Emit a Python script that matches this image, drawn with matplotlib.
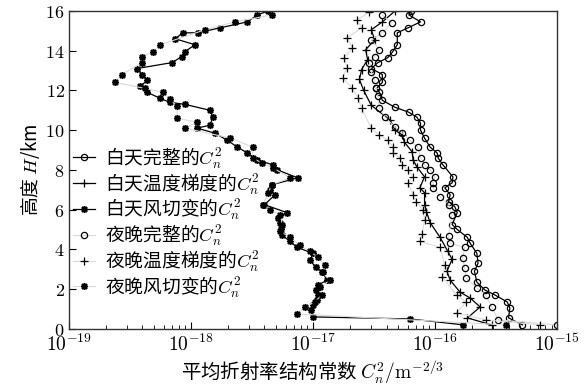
import numpy as np
import matplotlib
matplotlib.use("Agg")
import matplotlib.pyplot as plt

plt.rcParams['font.family'] = ['Noto Sans CJK SC', 'DejaVu Sans']
plt.rcParams['mathtext.fontset'] = 'cm'

# --- data (height in km, Cn2 in m^-2/3) ---
h_day_full = [16.0, 15.8, 15.45, 15.15, 14.9, 14.3, 13.95, 13.65, 13.4, 13.1, 12.8, 12.4,
              12.1, 11.9, 11.5, 11.15, 10.9, 10.65, 10.35, 10.0, 9.6, 9.15, 8.85, 8.6,
              8.25, 7.65, 7.35, 7.1, 6.75, 6.4, 6.15, 5.85, 5.25, 5.0, 4.6, 4.3, 3.8,
              3.3, 2.9, 2.35, 1.95, 1.7, 1.35, 1.05, 0.55, 0.2]
c_day_full = [6.3e-17, 6.1e-17, 7.6e-17, 6.0e-17, 4.9e-17, 4.9e-17, 4.5e-17, 4.1e-17,
              3.4e-17, 3.0e-17, 3.7e-17, 3.7e-17, 3.3e-17, 3.5e-17, 3.7e-17, 4.7e-17,
              6.1e-17, 7.1e-17, 7.6e-17, 7.6e-17, 8.2e-17, 9.1e-17, 1.04e-16, 1.06e-16,
              1.16e-16, 1.40e-16, 1.38e-16, 1.20e-16, 1.33e-16, 1.29e-16, 1.45e-16,
              1.52e-16, 1.38e-16, 1.52e-16, 1.84e-16, 1.94e-16, 2.2e-16, 2.25e-16,
              2.1e-16, 2.2e-16, 2.57e-16, 3.1e-16, 3.9e-16, 4.1e-16, 4.0e-16, 5.2e-16]

h_day_temp = [16.0, 15.45, 15.05, 14.55, 14.05, 13.55, 13.05, 12.55, 12.0, 11.25, 10.5,
              10.0, 9.75, 9.4, 8.9, 8.5, 8.15, 7.65, 7.1, 6.85, 6.25, 5.9, 5.35, 4.6,
              3.9, 3.5, 2.9, 2.45, 1.85, 1.55, 1.1, 0.55, 0.2]
c_day_temp = [4.7e-17, 3.7e-17, 3.0e-17, 3.2e-17, 2.7e-17, 2.8e-17, 2.5e-17, 2.4e-17,
              2.6e-17, 3.0e-17, 4.3e-17, 4.7e-17, 5.4e-17, 5.6e-17, 6.5e-17, 6.6e-17,
              7.1e-17, 8.2e-17, 7.5e-17, 8.2e-17, 8.2e-17, 8.5e-17, 9.1e-17, 1.10e-16,
              1.27e-16, 1.38e-16, 1.25e-16, 1.33e-16, 1.60e-16, 1.94e-16, 2.34e-16,
              1.84e-16, 2.9e-16]

h_day_wind = [16.0, 15.8, 15.45, 15.15, 14.9, 14.9, 14.6, 14.3, 13.95, 13.7, 13.4, 13.1,
              12.8, 12.5, 12.2, 11.9, 11.6, 11.4, 11.3, 11.0, 10.65, 10.25, 10.1, 9.85,
              9.5, 9.15, 8.85, 8.5, 8.25, 8.0, 7.6, 7.25, 7.0, 6.75, 6.25, 5.85, 5.6,
              5.35, 5.0, 4.7, 4.4, 4.1, 3.8, 3.45, 3.1, 2.85, 2.45, 2.2, 1.95, 1.7,
              1.45, 1.2, 0.95, 0.6, 0.5, 0.2]
c_day_wind = [4.3e-18, 3.5e-18, 2.9e-18, 1.73e-18, 1.14e-18, 8.6e-19, 7.4e-19, 1.08e-18,
              8.9e-19, 8.4e-19, 7.0e-19, 3.6e-19, 4.0e-19, 4.4e-19, 3.8e-19, 4.4e-19,
              5.6e-19, 6.7e-19, 8.9e-19, 1.43e-18, 1.51e-18, 1.43e-18, 1.12e-18, 1.57e-18,
              1.97e-18, 2.4e-18, 2.9e-18, 3.5e-18, 4.7e-18, 5.1e-18, 7.5e-18, 4.6e-18,
              4.4e-18, 4.9e-18, 4.0e-18, 6.1e-18, 5.2e-18, 5.4e-18, 5.5e-18, 5.6e-18,
              6.5e-18, 7.4e-18, 1.0e-17, 0.95e-17, 1.05e-17, 1.2e-17, 1.3e-17, 1.1e-17,
              1.05e-17, 1.1e-17, 1.08e-17, 1.0e-17, 0.97e-17, 1.0e-17, 6.2e-17, 1.7e-16]

h_night_full = [15.8, 15.4, 14.9, 14.55, 14.05, 13.7, 13.4, 12.95, 12.5, 12.1, 11.7, 11.1,
                10.65, 10.15, 9.85, 9.5, 9.15, 8.6, 8.25, 8.0, 7.65, 7.35, 7.1, 6.65,
                6.25, 5.75, 4.65, 4.3, 4.1, 3.55, 3.05, 2.55, 2.05, 1.7, 1.1, 0.45, 0.2]
c_night_full = [3.7e-17, 4.4e-17, 3.7e-17, 3.0e-17, 3.5e-17, 3.2e-17, 2.9e-17, 3.0e-17,
                3.2e-17, 3.3e-17, 3.4e-17, 3.5e-17, 3.9e-17, 4.7e-17, 5.4e-17, 6.2e-17,
                7.2e-17, 7.6e-17, 8.2e-17, 9.1e-17, 1.0e-16, 9.6e-17, 9.6e-17, 1.10e-16,
                1.29e-16, 1.38e-16, 1.29e-16, 1.33e-16, 1.75e-16, 1.68e-16, 1.75e-16,
                1.80e-16, 2.2e-16, 2.6e-16, 2.9e-16, 3.3e-16, 1.0e-15]

h_night_temp = [15.95, 15.55, 15.15, 14.65, 14.15, 13.65, 13.15, 12.65, 12.1, 11.6, 11.1,
                10.1, 9.75, 9.5, 9.15, 8.85, 8.6, 8.25, 8.0, 7.65, 7.35, 6.75, 6.4, 6.0,
                5.5, 4.75, 4.4, 4.1, 3.2, 2.6, 1.7, 1.35, 0.8, 0.45, 0.2]
c_night_temp = [2.9e-17, 2.3e-17, 2.5e-17, 1.9e-17, 2.1e-17, 1.8e-17, 1.9e-17, 1.75e-17,
                2.1e-17, 2.35e-17, 2.5e-17, 3.0e-17, 3.5e-17, 4.1e-17, 4.5e-17, 4.5e-17,
                5.2e-17, 5.4e-17, 6.0e-17, 6.6e-17, 6.0e-17, 6.6e-17, 7.0e-17, 7.9e-17,
                8.2e-17, 7.8e-17, 7.5e-17, 1.10e-16, 1.2e-16, 1.15e-16, 1.5e-16, 1.8e-16,
                1.5e-16, 2.6e-16, 7.3e-16]

h_night_wind = [15.8, 15.45, 15.05, 14.3, 13.95, 13.7, 13.4, 12.8, 12.4, 12.1, 11.9,
                11.55, 11.2, 10.6, 10.4, 10.1, 9.6, 9.15, 8.6, 8.35, 8.1, 7.6, 7.25,
                6.85, 6.25, 6.0, 5.75, 5.25, 4.9, 4.6, 4.2, 3.9, 3.6, 3.2, 2.85, 2.45,
                2.1, 1.7, 1.35, 1.1, 0.75, 0.2]
c_night_wind = [4.6e-18, 2.3e-18, 1.3e-18, 5.6e-19, 4.9e-19, 4.0e-19, 4.0e-19, 2.7e-19,
                2.4e-19, 4.2e-19, 5.9e-19, 6.7e-19, 7.7e-19, 7.7e-19, 1.12e-18, 8.9e-19,
                2.1e-18, 3.2e-18, 3.2e-18, 3.8e-18, 4.7e-18, 6.5e-18, 4.6e-18, 4.3e-18,
                3.9e-18, 4.4e-18, 5.4e-18, 5.6e-18, 5.4e-18, 6.5e-18, 7.8e-18, 9.4e-18,
                1.1e-17, 1.25e-17, 1.18e-17, 1.38e-17, 1.14e-17, 1.18e-17, 1.03e-17,
                8.6e-18, 7.4e-18, 3.8e-16]

labels = ['白天完整的$C_n^2$', '白天温度梯度的$C_n^2$', '白天风切变的$C_n^2$',
          '夜晚完整的$C_n^2$', '夜晚温度梯度的$C_n^2$', '夜晚风切变的$C_n^2$']
xticks = [1e-19, 1e-18, 1e-17, 1e-16, 1e-15]
xticklabels = ['$10^{-19}$', '$10^{-18}$', '$10^{-17}$', '$10^{-16}$', '$10^{-15}$']
yticks = [0, 2, 4, 6, 8, 10, 12, 14, 16]

fig = plt.figure(figsize=(5.84, 3.91), dpi=100)
ax = fig.add_axes([0.118, 0.159, 0.836, 0.813])

grey = '#dadada'
day = dict(color='k', lw=0.9)
night = dict(color=grey, lw=0.8, mec='k')
ast = (8, 2, 0)  # asterisk-like marker for the wind-shear curves

ax.plot(c_day_full, h_day_full, marker='o', ms=4.5, mfc='none', mec='k', mew=0.9,
        label=labels[0], **day)
ax.plot(c_day_temp, h_day_temp, marker='+', ms=6, mec='k', mew=0.9,
        label=labels[1], **day)
ax.plot(c_day_wind, h_day_wind, marker=ast, ms=5, mec='k', mew=1.1,
        label=labels[2], **day)
ax.plot(c_night_full, h_night_full, marker='o', ms=4.5, mfc='none', mew=0.9,
        label=labels[3], **night)
ax.plot(c_night_temp, h_night_temp, marker='+', ms=6, mew=0.9,
        label=labels[4], **night)
ax.plot(c_night_wind, h_night_wind, marker=ast, ms=5, mew=1.1,
        label=labels[5], **night)

ax.set_xscale('log')
ax.set_xlim(1e-19, 1e-15)
ax.set_ylim(0, 16)
ax.set_xticks(xticks)
ax.set_xticklabels(xticklabels, fontsize=14)
ax.set_yticks(yticks)
ax.set_yticklabels(['$%d$' % v for v in yticks], fontsize=13)
ax.tick_params(axis='both', which='both', direction='in')
ax.tick_params(axis='x', which='major', length=5, pad=4)
ax.tick_params(axis='x', which='minor', length=3)
ax.tick_params(axis='y', length=5, pad=3)
for s in ax.spines.values():
    s.set_linewidth(1.0)
    s.set_color('#333333')

ax.set_xlabel('平均折射率结构常数 $C_n^2/\\mathrm{m}^{-2/3}$', fontsize=14, labelpad=2)
ax.set_ylabel('高度 $H$/km', fontsize=13.5, labelpad=2)

ax.legend(loc='center left', bbox_to_anchor=(0.0, 0.335), frameon=False,
          fontsize=13.5, handlelength=1.2, handletextpad=0.5, labelspacing=0.0,
          borderaxespad=0, borderpad=0.2)

fig.savefig('out.png', dpi=100)
